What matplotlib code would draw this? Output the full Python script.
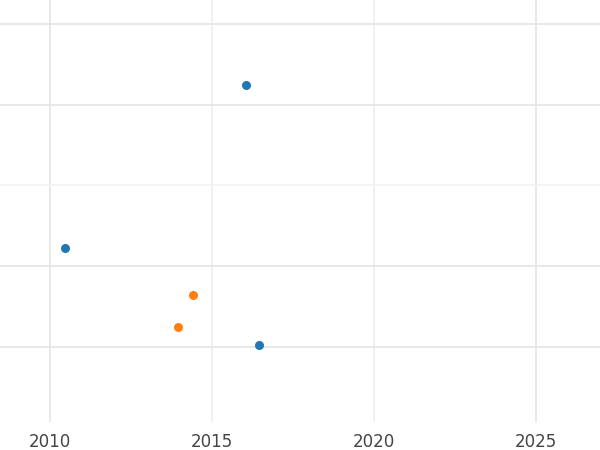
import matplotlib
matplotlib.use("Agg")
import matplotlib.pyplot as plt

blue_x = [2016.05, 2010.46, 2016.45]
blue_y = [4.25, 2.22, 1.02]
orange_x = [2014.41, 2013.95]
orange_y = [1.64, 1.25]
xticks = [2010, 2015, 2020, 2025]

fig = plt.figure(figsize=(6, 4.5), dpi=100)
ax = fig.add_axes([0, 28/450, 1, 422/450])
ax.set_xlim(2008.46, 2026.98)
ax.set_ylim(0.07, 5.297)
for x in xticks:
    ax.axvline(x, color="#e6e6e6" if x in (2010, 2025) else "#f0f0f0", lw=1.3, zorder=0)
for y in [1, 2, 3, 4, 5]:
    ax.axhline(y, color="#e6e6e6" if y != 3 else "#f2f2f2", lw=1.3, zorder=0)
ax.scatter(blue_x, blue_y, s=30, color="#1f77b4", zorder=3)
ax.scatter(orange_x, orange_y, s=30, color="#ff7f0e", zorder=3)
ax.set_xticks(xticks)
ax.set_yticks([])
ax.tick_params(axis="x", length=0, labelsize=12, labelcolor="#444444", pad=8)
for s in ax.spines.values():
    s.set_visible(False)
fig.savefig("out.png")
